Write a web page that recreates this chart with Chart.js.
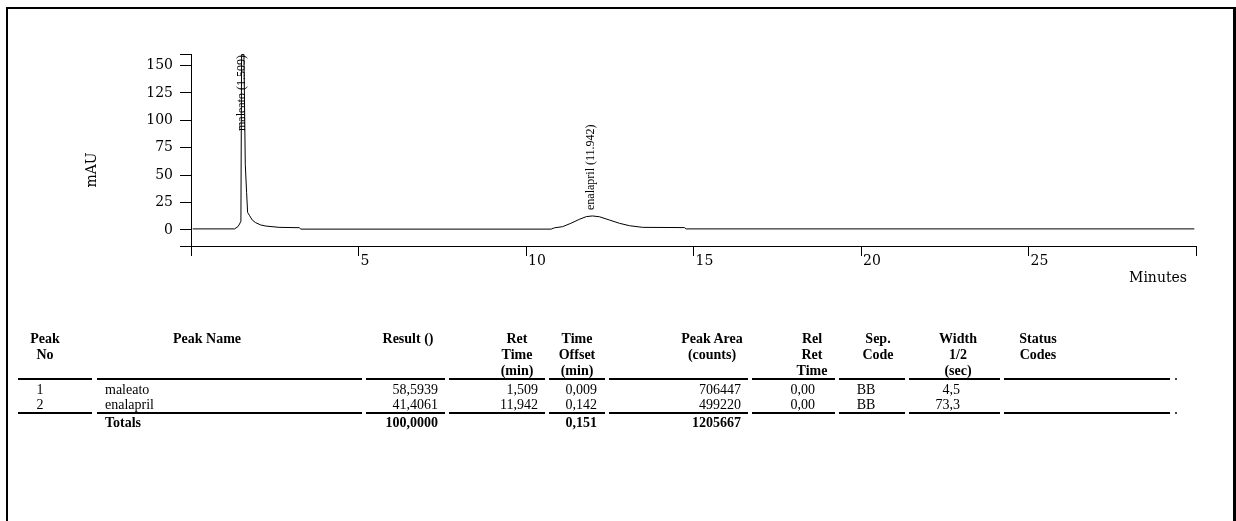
<!DOCTYPE html>
<html><head><meta charset="utf-8">
<script src="https://cdn.jsdelivr.net/npm/chart.js@4.4.0/dist/chart.umd.min.js"></script>
<style>
html,body{margin:0;padding:0;background:#fff;}
body{width:1236px;height:521px;overflow:hidden;position:relative;}
#frame{position:absolute;left:6px;top:7px;width:1225px;height:600px;border-left:2px solid #000;border-top:2px solid #000;border-right:3px solid #000;}
#chartWrap{position:absolute;left:0;top:0;width:1236px;height:300px;}
#tbl{position:absolute;left:0;top:0;width:1236px;height:521px;}
.t{position:absolute;font-family:"Liberation Serif";font-size:14px;line-height:16px;white-space:nowrap;color:#000;}
.b{font-weight:bold;}
.ln{position:absolute;height:2px;background:#000;}
.dot{position:absolute;width:2px;height:2px;background:#444;}
</style></head>
<body>
<div id="frame"></div>
<div id="chartWrap"><canvas id="c" width="1236" height="300"></canvas></div>
<div id="tbl"></div>
<script>
// ---------- chromatogram trace (minutes, mAU) ----------
const timeMin = [0.05, 1.30, 1.40, 1.45, 1.49, 1.51, 1.58, 1.62, 1.66, 1.69, 1.75, 1.83, 1.93, 2.08, 2.23, 2.63, 3.23, 3.28,
                 10.75, 10.85, 11.09, 11.34, 11.59, 11.80, 11.98, 12.19, 12.49, 12.79, 13.09, 13.48, 14.73, 14.78, 29.95];
const signal  = [1.0, 1.0, 3.0, 5.5, 8.0, 160, 160, 60, 34, 16, 13, 9.0, 6.7, 4.6, 3.6, 2.4, 2.1, 0.8,
                 0.8, 2.0, 3.0, 6.1, 9.7, 12.2, 12.8, 12.1, 9.1, 6.1, 3.9, 2.4, 2.2, 1.0, 1.0];

// ---------- axes ----------
const xRange = [0, 30];
const xTickValues = [0, 5, 10, 15, 20, 25, 30];
const xTickLabels = [5, 10, 15, 20, 25];
const yRange = [-14.6, 160.5];
const yTickValues = [0, 25, 50, 75, 100, 125, 150];
const xTitle = 'Minutes';
const yTitle = 'mAU';

// ---------- peak table ----------
const peakNo = [1, 2];
const peakNames = ['maleato', 'enalapril'];
const results = [58.5939, 41.4061];
const retTimes = [1.509, 11.942];
const timeOffsets = [0.009, 0.142];
const peakAreas = [706447, 499220];
const relRetTimes = [0.00, 0.00];
const sepCodes = ['BB', 'BB'];
const widthHalf = [4.5, 73.3];
const statusCodes = ['', ''];
const totalResult = 100.0000;
const totalOffset = 0.151;
const totalArea = 1205667;
const headers = [['Peak','No'],['Peak Name'],['Result ()'],['Ret','Time','(min)'],['Time','Offset','(min)'],
                 ['Peak Area','(counts)'],['Rel','Ret','Time'],['Sep.','Code'],['Width','1/2','(sec)'],['Status','Codes']];

// ---------- chart ----------
const labelPlugin = {
  id: 'labels',
  afterDraw(chart) {
    const ctx = chart.ctx, xs = chart.scales.x, ys = chart.scales.y, area = chart.chartArea;
    ctx.save();
    ctx.fillStyle = '#000';
    ctx.font = '12px "Liberation Serif"';
    ctx.textAlign = 'left';
    ctx.textBaseline = 'middle';
    retTimes.forEach((rt, i) => {
      let apex = 0;
      timeMin.forEach((t, j) => { if (Math.abs(t - rt) < 0.6 && signal[j] > apex) apex = signal[j]; });
      const txt = peakNames[i] + ' (' + rt.toFixed(3) + ')';
      const len = ctx.measureText(txt).width;
      const px = xs.getPixelForValue(rt);
      let py = ys.getPixelForValue(apex) - 6;
      if (py - len < area.top + 1) py = area.top + 1 + len;
      ctx.save();
      ctx.translate(px, py);
      ctx.rotate(-Math.PI / 2);
      ctx.fillText(txt, 0, 0);
      ctx.restore();
    });
    ctx.font = '14px "DejaVu Serif"';
    ctx.save();
    ctx.translate(92, 170);
    ctx.rotate(-Math.PI / 2);
    ctx.textAlign = 'center';
    ctx.fillText(yTitle, 0, 0);
    ctx.restore();
    ctx.textAlign = 'right';
    ctx.fillText(xTitle, 1187, 278);
    ctx.restore();
  }
};

new Chart(document.getElementById('c'), {
  type: 'line',
  data: {
    datasets: [{
      data: timeMin.map((t, i) => ({x: t, y: signal[i]})),
      borderColor: '#000', borderWidth: 1, pointRadius: 0, tension: 0, fill: false
    }]
  },
  options: {
    responsive: false, animation: false, devicePixelRatio: 1,
    layout: {padding: {left: 0, top: 54, right: 40, bottom: 24}},
    plugins: {legend: {display: false}, tooltip: {enabled: false}},
    scales: {
      x: {
        type: 'linear', min: xRange[0], max: xRange[1],
        afterBuildTicks: s => { s.ticks = xTickValues.map(v => ({value: v})); },
        afterFit: s => { s.height = 30; },
        grid: {drawOnChartArea: false, drawTicks: true, tickLength: 10, color: '#000', lineWidth: 1},
        border: {display: true, color: '#000', width: 1},
        ticks: {autoSkip: false, maxRotation: 0, align: 'start', padding: -3, labelOffset: 2,
                color: '#000', font: {family: 'DejaVu Serif', size: 14},
                callback: v => xTickLabels.includes(v) ? String(v) : ''}
      },
      y: {
        type: 'linear', min: yRange[0], max: yRange[1],
        afterBuildTicks: s => { s.ticks = [yRange[0], ...yTickValues, yRange[1]].map(v => ({value: v})); },
        afterFit: s => { s.width = 191; },
        grid: {drawOnChartArea: false, drawTicks: true, tickLength: 11, color: '#000', lineWidth: 1},
        border: {display: true, color: '#000', width: 1},
        ticks: {autoSkip: false, padding: 7, color: '#000', font: {family: 'DejaVu Serif', size: 14},
                callback: v => yTickValues.includes(v) ? String(v) : ''}
      }
    }
  },
  plugins: [labelPlugin]
});

// ---------- table (HTML) ----------
const tbl = document.getElementById('tbl');
const colSeg = [[18,92],[97,362],[366,445],[449,545],[549,605],[609,748],[752,835],[839,905],[909,1000],[1004,1170]];
const headCenter = [45,207,408,517,577,712,812,878,958,1038];
const dataAlign = ['center','left','right','right','right','right','right','center','right','left'];
const dataX = [40,105,438,538,597,741,815,866,960,1010];
const headY = [339, 355, 371];
const rowY = [390, 405];
const totY = 423;
const lineY = [378, 412];
const dotX = 1175;

function addText(txt, x, yc, align, bold) {
  const d = document.createElement('div');
  d.className = 't' + (bold ? ' b' : '');
  d.textContent = txt;
  d.style.top = (yc - 8) + 'px';
  if (align === 'left') d.style.left = x + 'px';
  else if (align === 'right') d.style.right = (1236 - x) + 'px';
  else { d.style.left = x + 'px'; d.style.transform = 'translateX(-50%)'; }
  tbl.appendChild(d);
}
const dec = (v, n) => v.toFixed(n).replace('.', ',');

headers.forEach((h, c) => h.forEach((line, k) => addText(line, headCenter[c], headY[k], 'center', true)));
lineY.forEach(y => {
  colSeg.forEach(([a, b]) => {
    const l = document.createElement('div'); l.className = 'ln';
    l.style.left = a + 'px'; l.style.width = (b - a) + 'px'; l.style.top = y + 'px';
    tbl.appendChild(l);
  });
  const d = document.createElement('div'); d.className = 'dot';
  d.style.left = dotX + 'px'; d.style.top = y + 'px'; tbl.appendChild(d);
});
peakNo.forEach((n, i) => {
  const cells = [String(n), peakNames[i], dec(results[i], 4), dec(retTimes[i], 3), dec(timeOffsets[i], 3),
                 String(peakAreas[i]), dec(relRetTimes[i], 2), sepCodes[i], dec(widthHalf[i], 1), statusCodes[i]];
  cells.forEach((txt, c) => { if (txt) addText(txt, dataX[c], rowY[i], dataAlign[c], false); });
});
addText('Totals', dataX[1], totY, 'left', true);
addText(dec(totalResult, 4), dataX[2], totY, 'right', true);
addText(dec(totalOffset, 3), dataX[4], totY, 'right', true);
addText(String(totalArea), dataX[5], totY, 'right', true);
</script>
</body></html>
